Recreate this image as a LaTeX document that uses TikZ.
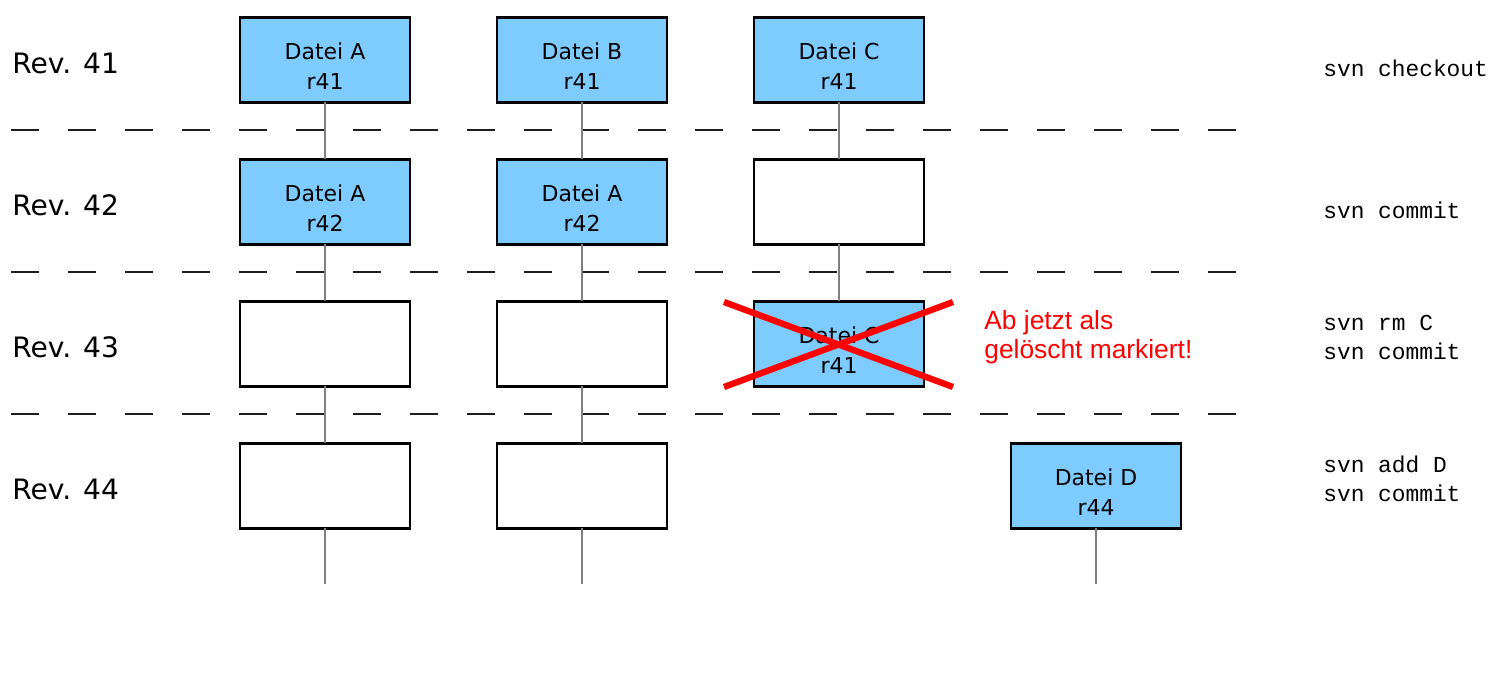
\documentclass[tikz,border=0pt]{standalone}
\usepackage{fontspec}
\setmainfont{DejaVu Sans}
\newfontfamily\notefont{Liberation Sans}
\newfontfamily\cmdfont{Liberation Mono}
\usetikzlibrary{positioning}

\definecolor{fileblue}{RGB}{125,203,255}
\definecolor{linegray}{RGB}{128,128,128}
\definecolor{sepdark}{RGB}{30,30,30}

\begin{document}
\begin{tikzpicture}[
  node distance=1.14cm and 1.74cm,
  filebox/.style={rectangle, draw=black, line width=1.4pt,
    minimum width=3.4cm, minimum height=1.7cm, outer sep=0pt,
    align=center, text height=34pt,
    font=\fontsize{12.5}{17}\selectfont},
  full/.style={filebox, fill=fileblue},
  empty/.style={filebox, fill=white},
  revlbl/.style={anchor=west, inner sep=0pt,
    font=\fontsize{16}{19}\selectfont},
  cmd/.style={anchor=west, inner sep=0pt, align=left,
    font=\cmdfont\fontsize{13}{16.5}\selectfont},
  note/.style={inner sep=0pt, align=left, text=red,
    font=\notefont\fontsize{15}{16.5}\selectfont},
  sep/.style={draw=sepdark, line width=1.6pt,
    dash pattern=on 0.56cm off 0.58cm},
  life/.style={draw=linegray, line width=1.1pt},
  cross/.style={draw=red, line width=3.6pt}
]
  \useasboundingbox (0,0) rectangle (29.84,-13.72);

  % revision separators
  \draw[sep] (0.22,-2.6) -- (24.74,-2.6);
  \draw[sep] (0.22,-5.44) -- (24.74,-5.44);
  \draw[sep] (0.22,-8.28) -- (24.74,-8.28);

  % Rev. 41
  \node[full] (a1) at (6.5,-1.2) {Datei A\\r41};
  \node[full, right=of a1] (b1) {Datei B\\r41};
  \node[full, right=of b1] (c1) {Datei C\\r41};

  % Rev. 42
  \node[full, below=of a1] (a2) {Datei A\\r42};
  \node[full, below=of b1] (b2) {Datei A\\r42};
  \node[empty, below=of c1] (c2) {};

  % Rev. 43
  \node[empty, below=of a2] (a3) {};
  \node[empty, below=of b2] (b3) {};
  \node[full, below=of c2] (c3) {Datei C\\r41};

  % Rev. 44
  \node[empty, below=of a3] (a4) {};
  \node[empty, below=of b3] (b4) {};
  \node[full, below=of c3, xshift=5.14cm] (d4) {Datei D\\r44};

  \coordinate[below=1.1cm of a4] (aend);
  \coordinate[below=1.1cm of b4] (bend);
  \coordinate[below=1.1cm of d4] (dend);

  % file histories
  \draw[life] (a1) -- (a2);
  \draw[life] (a2) -- (a3);
  \draw[life] (a3) -- (a4);
  \draw[life] (a4) -- (aend);
  \draw[life] (b1) -- (b2);
  \draw[life] (b2) -- (b3);
  \draw[life] (b3) -- (b4);
  \draw[life] (b4) -- (bend);
  \draw[life] (c1) -- (c2);
  \draw[life] (c2) -- (c3);
  \draw[life] (d4) -- (dend);

  % deleted
  \draw[cross] ([shift={(-2.3,0.84)}]c3.center)
    -- ([shift={(2.28,-0.86)}]c3.center);
  \draw[cross] ([shift={(-2.3,-0.86)}]c3.center)
    -- ([shift={(2.28,0.84)}]c3.center);
  \node[note, right=1.2cm of c3, yshift=0.13cm] (del)
    {Ab jetzt als\\gelöscht markiert!};

  % row labels
  \node[revlbl] (rev41) at (0.24,-1.26) {Rev. 41};
  \node[revlbl] (rev42) at (0.24,-4.1) {Rev. 42};
  \node[revlbl] (rev43) at (0.24,-6.94) {Rev. 43};
  \node[revlbl] (rev44) at (0.24,-9.78) {Rev. 44};

  % commands
  \node[cmd] (cmd41) at (26.46,-1.36) {svn checkout};
  \node[cmd] (cmd42) at (26.46,-4.2) {svn commit};
  \node[cmd] (cmd43) at (26.46,-6.74) {svn rm C\\svn commit};
  \node[cmd] (cmd44) at (26.46,-9.58) {svn add D\\svn commit};
\end{tikzpicture}
\end{document}
